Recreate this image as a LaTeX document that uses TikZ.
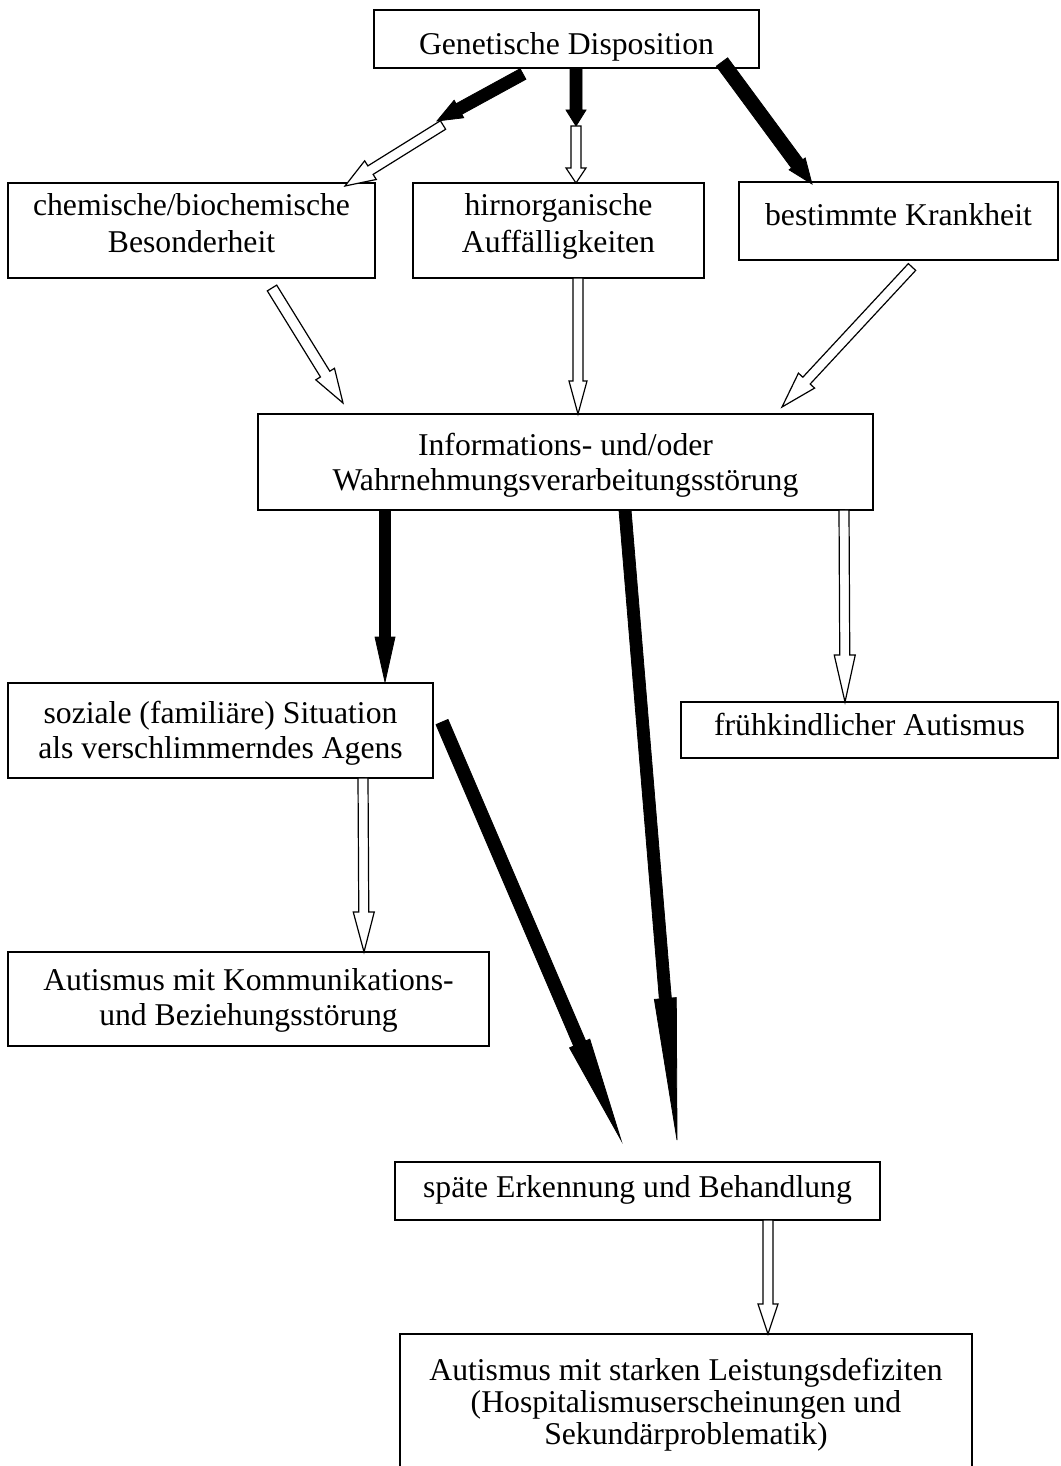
\documentclass[tikz,border=0pt]{standalone}
\usepackage{fontspec}
\setmainfont{Liberation Serif}
\usetikzlibrary{calc}
\newcommand{\bt}[2]{\raisebox{#1}[0pt][0pt]{\begin{tabular}[t]{@{}c@{}}#2\end{tabular}}}
\newcommand{\blockarr}[6]{%
  \coordinate (hb) at ($(#2)!#5!(#1)$);
  \draw[#6] ($(#1)!#3!90:(#2)$) -- ($(hb)!#3!90:(#2)$) -- ($(hb)!#4!90:(#2)$) -- (#2)
    -- ($(hb)!#4!-90:(#2)$) -- ($(hb)!#3!-90:(#2)$) -- ($(#1)!#3!-90:(#2)$) -- cycle;
}
\begin{document}
\begin{tikzpicture}[x=1pt,y=-1pt,
  box/.style={draw, line width=1.5pt, rectangle, inner sep=0pt,
    font=\fontsize{31.7}{35}\selectfont},
  blackarr/.style={fill=black, draw=black, line width=0.8pt, line join=miter},
  hollowarr/.style={fill=white, draw=black, line width=1.2pt, line join=miter}]
\path[use as bounding box] (0,0) rectangle (1060,1466);
\fill[white] (0,0) rectangle (1060,1466);
\clip (0,0) rectangle (1060,1466);

% boxes
\node[box, minimum width=385pt, minimum height=58pt] (gen) at (566.5,39) {\bt{-16pt}{Genetische Disposition}};
\node[box, minimum width=367pt, minimum height=95pt, font=\fontsize{31.7}{37}\selectfont] (chem) at (191.5,230.5) {\bt{15.5pt}{chemische/biochemische\\Besonderheit}};
\node[box, minimum width=291pt, minimum height=95pt, font=\fontsize{31.7}{37}\selectfont] (hirn) at (558.5,230.5) {\bt{15.5pt}{hirnorganische\\Auffälligkeiten}};
\node[box, minimum width=319pt, minimum height=78pt] (krank) at (898.5,221) {\bt{-4pt}{bestimmte Krankheit}};
\node[box, minimum width=615pt, minimum height=96pt] (info) at (565.5,462) {\bt{7pt}{Informations- und/oder\\Wahrnehmungsverarbeitungsstörung}};
\node[box, minimum width=425pt, minimum height=95pt] (soz) at (220.5,730.5) {\bt{7.5pt}{soziale (familiäre) Situation\\als verschlimmerndes Agens}};
\node[box, minimum width=377pt, minimum height=56pt] (frueh) at (869.5,730) {\bt{-5pt}{frühkindlicher Autismus}};
\node[box, minimum width=481pt, minimum height=94pt] (komm) at (248.5,999) {\bt{9pt}{Autismus mit Kommunikations-\\und Beziehungsstörung}};
\node[box, minimum width=485pt, minimum height=58pt] (spaet) at (637.5,1191) {\bt{-6pt}{späte Erkennung und Behandlung}};
\node[box, minimum width=572pt, minimum height=200pt, font=\fontsize{31.7}{32}\selectfont] (stark) at (686,1434) {\bt{54pt}{Autismus mit starken Leistungsdefiziten\\(Hospitalismuserscheinungen und\\Sekundärproblematik)}};

% arrow end points
\coordinate (a1s) at (523,74);  \coordinate (a1e) at (437,121);
\coordinate (a2s) at (576,68);  \coordinate (a2e) at (576,126);
\coordinate (a3s) at (722,62);  \coordinate (a3e) at (812,184);
\coordinate (h1s) at (443,125); \coordinate (h1e) at (345,186);
\coordinate (h2s) at (576,126); \coordinate (h2e) at (576,183);
\coordinate (h3s) at (272,288); \coordinate (h3e) at (343,403);
\coordinate (h4s) at (578,278); \coordinate (h4e) at (578,414);
\coordinate (h5s) at (912,267); \coordinate (h5e) at (782,407);
\coordinate (a4s) at (385,510); \coordinate (a4e) at (385,682);
\coordinate (a5s) at (625,510); \coordinate (a5e) at (677,1140);
\coordinate (h6s) at (844,510); \coordinate (h6e) at (845,702);
\coordinate (a6s) at (442,722); \coordinate (a6e) at (621,1140);
\coordinate (h7s) at (363,778); \coordinate (h7e) at (364,952);
\coordinate (h8s) at (768,1220); \coordinate (h8e) at (768,1334);

% black arrows
\blockarr{a1s}{a1e}{6pt}{10pt}{25pt}{blackarr}
\blockarr{a2s}{a2e}{6pt}{10pt}{16pt}{blackarr}
\blockarr{a3s}{a3e}{7pt}{10pt}{25pt}{blackarr}
\blockarr{a4s}{a4e}{5.5pt}{10pt}{45pt}{blackarr}
\blockarr{a5s}{a5e}{6pt}{11pt}{142pt}{blackarr}
\blockarr{a6s}{a6e}{6.5pt}{11pt}{105pt}{blackarr}
% hollow arrows
\blockarr{h1s}{h1e}{5pt}{11pt}{30pt}{hollowarr}
\blockarr{h2s}{h2e}{5pt}{10pt}{15pt}{hollowarr}
\blockarr{h3s}{h3e}{5.5pt}{11pt}{34pt}{hollowarr}
\blockarr{h4s}{h4e}{5pt}{9pt}{33pt}{hollowarr}
\blockarr{h5s}{h5e}{5pt}{11pt}{36pt}{hollowarr}
\blockarr{h6s}{h6e}{5pt}{10.5pt}{47pt}{hollowarr}
\blockarr{h7s}{h7e}{5pt}{10.5pt}{40pt}{hollowarr}
\blockarr{h8s}{h8e}{5pt}{10pt}{30pt}{hollowarr}
\end{tikzpicture}
\end{document}
